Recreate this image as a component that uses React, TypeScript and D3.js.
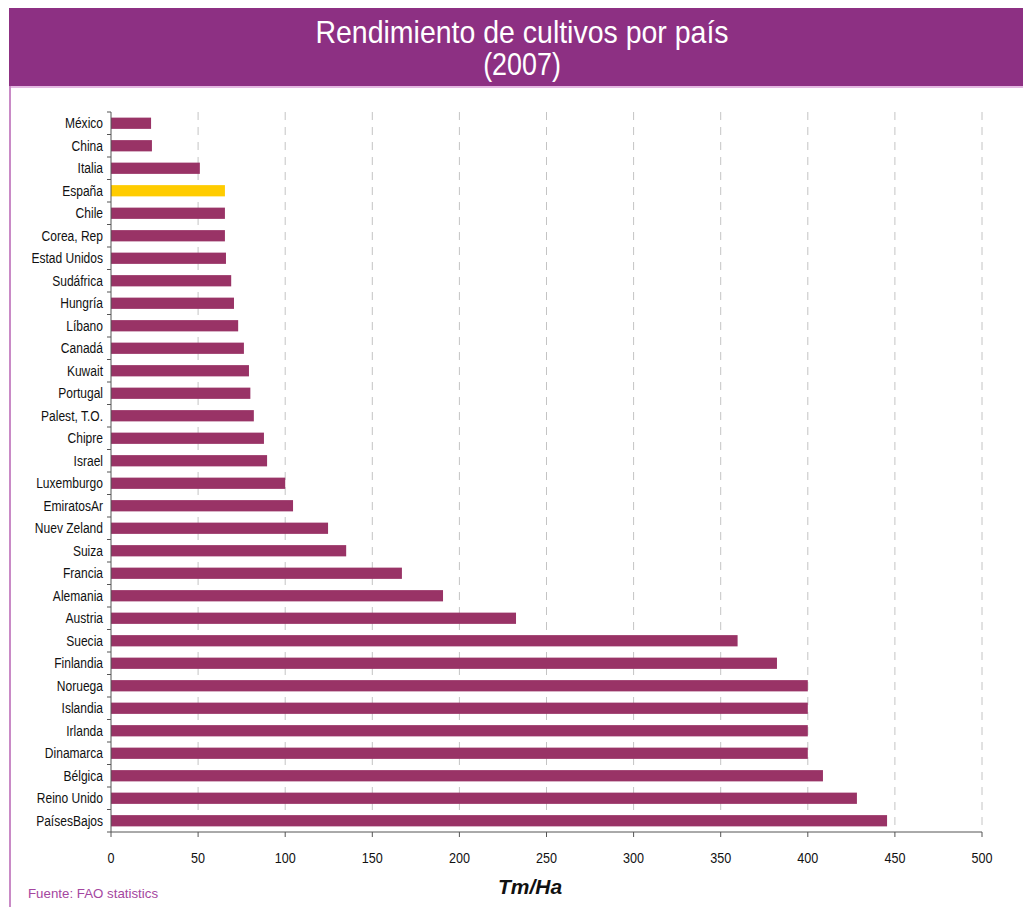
import React from "react";
import * as d3 from "d3";

const countries = [
  "México", "China", "Italia", "España", "Chile", "Corea, Rep", "Estad Unidos",
  "Sudáfrica", "Hungría", "Líbano", "Canadá", "Kuwait", "Portugal", "Palest, T.O.",
  "Chipre", "Israel", "Luxemburgo", "EmiratosAr", "Nuev Zeland", "Suiza", "Francia",
  "Alemania", "Austria", "Suecia", "Finlandia", "Noruega", "Islandia", "Irlanda",
  "Dinamarca", "Bélgica", "Reino Unido", "PaísesBajos",
];
const yields = [
  23, 23.5, 51, 65.4, 65.4, 65.4, 66, 69, 70.6, 73, 76.3, 79.2, 80, 82, 87.8, 89.6,
  100, 104.5, 124.6, 135, 167, 190.6, 232.5, 359.7, 382.3, 400, 400, 400, 400,
  408.7, 428.2, 445.5,
];
const highlight = "España";
const xTicks = [0, 50, 100, 150, 200, 250, 300, 350, 400, 450, 500];

const W = 1023;
const H = 907;
const M = { left: 111, right: 982, top: 112, bottom: 832 };
const SANS = "'Liberation Sans', Arial, sans-serif";

export default function App() {
  const x = d3.scaleLinear().domain([0, 500]).range([M.left, M.right]);
  const y = d3.scaleBand<string>().domain(countries).range([M.top, M.bottom]).paddingInner(0.5).paddingOuter(0.25);
  const step = y.step();
  const bounds = d3.range(countries.length + 1).map((i) => M.top + i * step);

  return (
    <div style={{ position: "absolute", left: 0, top: 0 }}>
      <svg width={W} height={H} style={{ display: "block" }}>
        <rect x={0} y={0} width={W} height={H} fill="#ffffff" />
        {/* banner */}
        <rect x={9} y={8} width={W - 9} height={78} fill="#8D3083" />
        <rect x={9} y={86} width={W - 9} height={2} fill="#E4B8E2" />
        <rect x={9} y={86} width={2} height={H - 86} fill="#C98AC6" />
        <g transform="translate(522,43) scale(0.89,1)">
          <text x={0} y={0} textAnchor="middle" fill="#ffffff" fontFamily={SANS} fontSize={32}>
            Rendimiento de cultivos por país
          </text>
        </g>
        <g transform="translate(522,75) scale(0.84,1)">
          <text x={0} y={0} textAnchor="middle" fill="#ffffff" fontFamily={SANS} fontSize={32}>
            (2007)
          </text>
        </g>

        {/* gridlines */}
        {xTicks.filter((t) => t > 0).map((t) => (
          <line key={"g" + t} x1={x(t)} x2={x(t)} y1={M.top} y2={M.bottom} stroke="#C4C4C4" strokeWidth={1} strokeDasharray="8,7" />
        ))}

        {/* bars */}
        {countries.map((c, i) => (
          <rect key={c} x={x(0)} y={y(c)!} width={x(yields[i]) - x(0)} height={y.bandwidth()}
            fill={c === highlight ? "#FFCC00" : "#993366"} />
        ))}

        {/* y axis */}
        <line x1={M.left} x2={M.left} y1={M.top} y2={M.bottom} stroke="#555" strokeWidth={1} />
        {bounds.map((b, i) => (
          <line key={"yt" + i} x1={M.left - 4} x2={M.left} y1={b} y2={b} stroke="#555" strokeWidth={1} />
        ))}
        {countries.map((c) => (
          <g key={"l" + c} transform={`translate(103,${y(c)! + y.bandwidth() / 2}) scale(0.83,1)`}>
            <text x={0} y={0} dy="0.36em" textAnchor="end" fontFamily={SANS} fontSize={14.5} fill="#111">
              {c}
            </text>
          </g>
        ))}

        {/* x axis */}
        <line x1={M.left} x2={M.right} y1={M.bottom} y2={M.bottom} stroke="#555" strokeWidth={1} />
        {xTicks.map((t) => (
          <g key={"xt" + t}>
            <line x1={x(t)} x2={x(t)} y1={M.bottom} y2={M.bottom + 5} stroke="#555" strokeWidth={1} />
            <g transform={`translate(${x(t)},863) scale(0.9,1)`}>
              <text x={0} y={0} textAnchor="middle" fontFamily={SANS} fontSize={14} fill="#111">
                {t}
              </text>
            </g>
          </g>
        ))}
        <text x={530} y={894} textAnchor="middle" fontFamily={SANS}
          fontSize={21} fontWeight="bold" fontStyle="italic" fill="#111">
          Tm/Ha
        </text>
        <text x={28} y={898} fontFamily={SANS} fontSize={13.3} fill="#A446A0">
          Fuente: FAO statistics
        </text>
      </svg>
    </div>
  );
}
